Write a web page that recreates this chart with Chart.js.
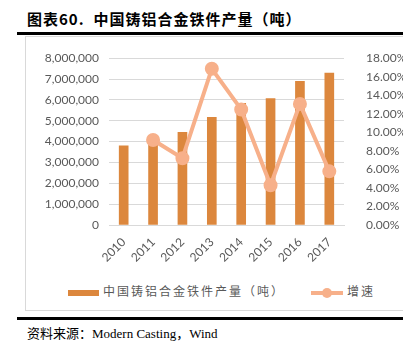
<!DOCTYPE html>
<html>
<head>
<meta charset="utf-8">
<script src="https://cdn.jsdelivr.net/npm/chart.js@4.4.0/dist/chart.umd.min.js"></script>
<style>
  body { margin: 0; width: 403px; height: 345px; background: #fff; position: relative; overflow: hidden; font-family: "Noto Sans CJK SC", sans-serif; }
  .title { position: absolute; left: 27px; top: 8px; font-size: 15px; font-weight: bold; color: #000; letter-spacing: 1px; }
  .rule { position: absolute; left: 17px; right: 0; height: 3px; background: #000; }
  .box { position: absolute; left: 25px; top: 36px; width: 378px; height: 275px; border: 1px solid #d9d9d9; border-right: none; box-sizing: border-box; }
  .chart-container { position: absolute; left: 0; top: 0; width: 378px; height: 240px; }
  .legend { position: absolute; top: 245px; left: 0; width: 378px; font-size: 12px; color: #595959; letter-spacing: 2px; }
  .legend span { position: absolute; white-space: nowrap; }
  .source { position: absolute; left: 27px; top: 323px; font-size: 13px; color: #000; font-family: "Noto Sans CJK SC", serif; }
  .source .en { font-family: "Liberation Serif", serif; }
</style>
</head>
<body>
<div class="title">图表60.&nbsp; 中国铸铝合金铁件产量（吨）</div>
<div class="rule" style="top:32px"></div>
<div class="box">
  <div class="chart-container"><canvas id="chart" width="378" height="240"></canvas></div>
  <div class="legend" id="legend"></div>
</div>
<div class="rule" style="top:317px"></div>
<div class="source">资料来源：<span class="en">Modern Casting</span>，<span class="en">Wind</span></div>
<script>
const years = ['2010', '2011', '2012', '2013', '2014', '2015', '2016', '2017'];
const output = [3800000, 4030000, 4440000, 5170000, 5830000, 6060000, 6890000, 7290000];
const growth = [null, 9.18, 7.2, 16.86, 12.47, 4.29, 13.07, 5.79];
const barLabel = '中国铸铝合金铁件产量（吨）';
const lineLabel = '增速';
const barColor = '#DC873D';
const lineColor = '#F7B08A';

const tickFont = { family: 'Lato, "Liberation Sans", sans-serif', size: 12 };

new Chart(document.getElementById('chart').getContext('2d'), {
  data: {
    labels: years,
    datasets: [
      {
        type: 'line', label: lineLabel, data: growth, yAxisID: 'y1', order: 0,
        borderColor: lineColor, backgroundColor: lineColor, borderWidth: 4,
        pointRadius: 5, pointHoverRadius: 5, tension: 0,
      },
      {
        type: 'bar', label: barLabel, data: output, yAxisID: 'y', order: 1,
        backgroundColor: barColor, barThickness: 9,
      },
    ],
  },
  options: {
    responsive: false,
    animation: false,
    layout: { padding: { top: 20 } },
    plugins: { legend: { display: false }, tooltip: { enabled: false } },
    scales: {
      x: {
        grid: { display: false },
        border: { color: '#d9d9d9' },
        ticks: { color: '#595959', font: tickFont, maxRotation: 45, minRotation: 45, padding: 2 },
        afterFit: (s) => { s.height = 52; },
      },
      y: {
        position: 'left', min: 0, max: 8000000,
        ticks: { stepSize: 1000000, color: '#595959', font: tickFont, padding: 10,
          callback: (v) => v.toLocaleString('en-US') },
        grid: { color: '#d9d9d9', drawTicks: false },
        border: { display: false },
        afterFit: (s) => { s.width = 83; },
      },
      y1: {
        position: 'right', min: 0, max: 18,
        ticks: { stepSize: 2, color: '#595959', font: tickFont, padding: 14,
          callback: (v) => v.toFixed(2) + '%' },
        grid: { display: false },
        border: { display: false },
        afterFit: (s) => { s.width = 60; },
      },
    },
  },
});

// legend
const legend = document.getElementById('legend');
legend.innerHTML =
  '<span style="left:42px;top:0"><i style="display:inline-block;width:31px;height:6px;background:' + barColor + ';vertical-align:middle;margin-right:4px"></i>' + barLabel + '</span>' +
  '<span style="left:285px;top:0"><i style="display:inline-block;position:relative;width:32px;height:4px;background:' + lineColor + ';vertical-align:middle;margin-right:4px"><b style="position:absolute;left:11px;top:-3px;width:10px;height:10px;border-radius:50%;background:' + lineColor + '"></b></i>' + lineLabel + '</span>';
</script>
</body>
</html>
